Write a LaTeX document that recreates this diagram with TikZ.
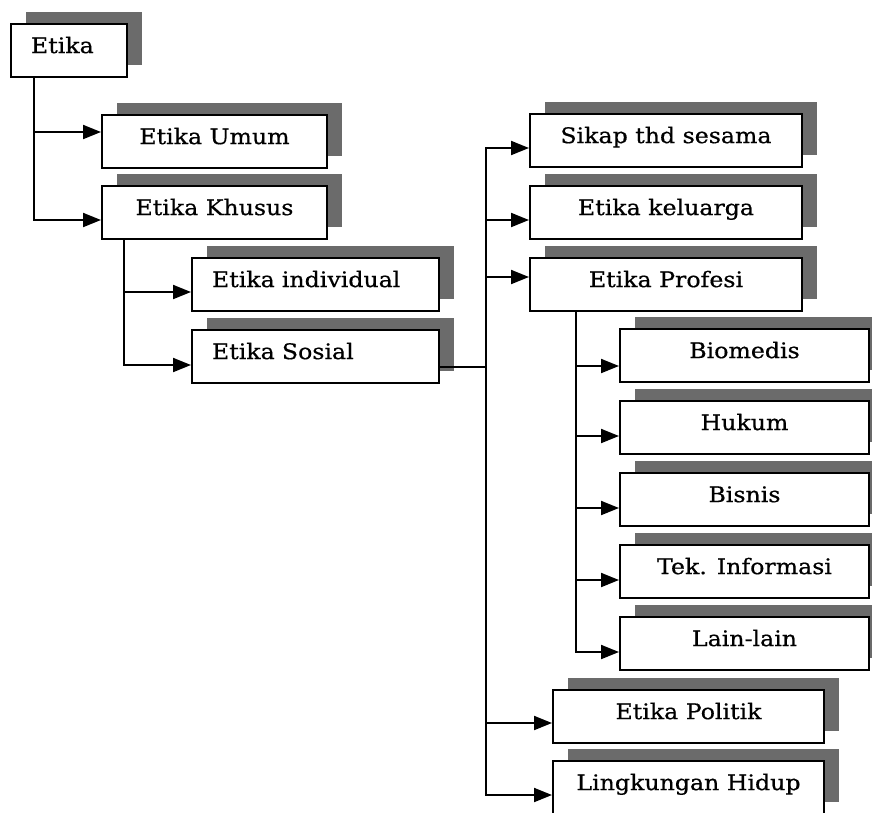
\documentclass[tikz,border=0pt]{standalone}
\usepackage{fontspec}
\setmainfont[FakeStretch=1.1,FakeBold=0.6]{DejaVu Serif}
\usetikzlibrary{arrows.meta,shadows,calc}

\begin{document}
\begin{tikzpicture}[x=1pt,y=-1pt,line width=2pt,
  >={Triangle[length=18pt,width=14pt]},
  kotak/.style={draw,fill=white,rectangle,anchor=north west,minimum height=53pt,
    font=\fontsize{21.5}{26}\selectfont,text height=16pt,text depth=10.8pt,
    drop shadow={shadow xshift=15pt,shadow yshift=12pt,fill=black!58,opacity=1}},
  kiri/.style={kotak,align=left,inner xsep=20pt,text width=#1},
  tengah/.style={kotak,minimum width=#1}]
  \useasboundingbox (0,0) rectangle (872,812);
  % kotak-kotak
  \node[kiri=76pt] (etika) at (10,23) {Etika};
  \node[tengah=225pt] (umum) at (101,114) {Etika Umum};
  \node[tengah=225pt] (khusus) at (101,185) {Etika Khusus};
  \node[kiri=207pt] (individual) at (191,257) {Etika individual};
  \node[kiri=207pt] (sosial) at (191,329) {Etika Sosial};
  \node[tengah=272pt] (sikap) at (529,113) {Sikap thd sesama};
  \node[tengah=272pt] (keluarga) at (529,185) {Etika keluarga};
  \node[tengah=272pt] (profesi) at (529,257) {Etika Profesi};
  \node[tengah=249pt] (biomedis) at (619,328) {Biomedis};
  \node[tengah=249pt] (hukum) at (619,400) {Hukum};
  \node[tengah=249pt] (bisnis) at (619,472) {Bisnis};
  \node[tengah=249pt] (tek) at (619,544) {Tek. Informasi};
  \node[tengah=249pt] (lain) at (619,616) {Lain-lain};
  \node[tengah=271pt] (politik) at (552,689) {Etika Politik};
  \node[tengah=271pt] (lingkungan) at (552,760) {Lingkungan Hidup};
  \foreach \n/\d in {umum/18,khusus/35,individual/35,sosial/36,sikap/35,keluarga/35,
    profesi/20,biomedis/38,hukum/36,bisnis/36,tek/36,lain/36,politik/34,lingkungan/35}
  {
    \coordinate (\n-in) at ($(\n.north west)+(0,\d)$);
  }
  % garis penghubung
  \draw[->] ($(etika.south west)+(24,0)$) coordinate (t1) |- (khusus-in);
  \draw[->] (t1 |- umum-in) -- (umum-in);
  \draw[->] ($(khusus.south west)+(23,0)$) coordinate (t2) |- (sosial-in);
  \draw[->] (t2 |- individual-in) -- (individual-in);
  \draw ($(sosial.north east)+(0,38)$) coordinate (sout) -- ++(46,0) coordinate (t3);
  \draw[->] (t3) |- (sikap-in);
  \draw[->] (t3) |- (lingkungan-in);
  \foreach \n in {keluarga,profesi,politik}
  {
    \draw[->] (t3 |- \n-in) -- (\n-in);
  }
  \draw[->] ($(profesi.south west)+(47,0)$) coordinate (t4) |- (lain-in);
  \foreach \n in {biomedis,hukum,bisnis,tek}
  {
    \draw[->] (t4 |- \n-in) -- (\n-in);
  }
\end{tikzpicture}
\end{document}
